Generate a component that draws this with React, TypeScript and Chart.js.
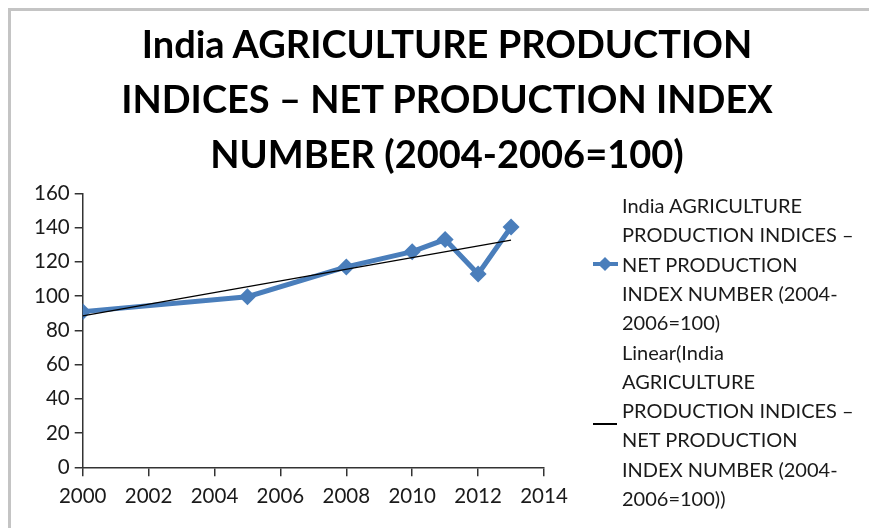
import React, { useEffect, useRef } from "react";
import { Chart, registerables } from "chart.js";

Chart.register(...registerables);

const years = [2000, 2005, 2008, 2010, 2011, 2012, 2013];
const indexValues = [90.9, 99.6, 117, 125.9, 133, 112.9, 140.3];
const xTicks = [2000, 2002, 2004, 2006, 2008, 2010, 2012, 2014];
const yTicks = [0, 20, 40, 60, 80, 100, 120, 140, 160];

const titleLines = [
  "India AGRICULTURE PRODUCTION",
  "INDICES – NET PRODUCTION INDEX",
  "NUMBER (2004-2006=100)",
];
const seriesLegendLines = [
  "India AGRICULTURE",
  "PRODUCTION INDICES –",
  "NET PRODUCTION",
  "INDEX NUMBER (2004-",
  "2006=100)",
];
const trendLegendLines = [
  "Linear(India",
  "AGRICULTURE",
  "PRODUCTION INDICES –",
  "NET PRODUCTION",
  "INDEX NUMBER (2004-",
  "2006=100))",
];

function linearFit(xs: number[], ys: number[]) {
  const n = xs.length;
  const mx = xs.reduce((a, b) => a + b, 0) / n;
  const my = ys.reduce((a, b) => a + b, 0) / n;
  let sxy = 0;
  let sxx = 0;
  for (let i = 0; i < n; i++) {
    sxy += (xs[i] - mx) * (ys[i] - my);
    sxx += (xs[i] - mx) * (xs[i] - mx);
  }
  const slope = sxy / sxx;
  return { slope, intercept: my - slope * mx };
}

const BLUE = "#4a7ebb";
const FONT = "Lato, 'Open Sans', sans-serif";

export default function App() {
  const canvasRef = useRef<HTMLCanvasElement | null>(null);

  useEffect(() => {
    if (!canvasRef.current) return;
    const fit = linearFit(years, indexValues);
    const x0 = years[0];
    const x1 = years[years.length - 1];
    const trend = [
      { x: x0, y: fit.intercept + fit.slope * x0 },
      { x: x1, y: fit.intercept + fit.slope * x1 },
    ];
    const chart = new Chart(canvasRef.current, {
      type: "line",
      data: {
        datasets: [
          {
            label: seriesLegendLines.join(" "),
            data: years.map((y, i) => ({ x: y, y: indexValues[i] })),
            borderColor: BLUE,
            backgroundColor: BLUE,
            borderWidth: 5,
            pointStyle: "rectRot",
            pointRadius: 8.5,
            pointBorderWidth: 0,
            tension: 0,
            order: 2,
          },
          {
            label: trendLegendLines.join(" "),
            data: trend,
            borderColor: "#000000",
            backgroundColor: "#000000",
            borderWidth: 1.3,
            pointRadius: 0,
            tension: 0,
            order: 1,
          },
        ],
      },
      options: {
        animation: false,
        responsive: false,
        layout: { padding: { left: 0, right: 325, top: 181.3, bottom: 0 } },
        plugins: {
          legend: { display: false },
          tooltip: { enabled: false },
          title: { display: false },
        },
        scales: {
          x: {
            type: "linear",
            min: xTicks[0],
            max: xTicks[xTicks.length - 1],
            afterBuildTicks: (scale: any) => {
              scale.ticks = xTicks.map((v) => ({ value: v }));
            },
            afterFit: (scale: any) => {
              scale.height = 60.7;
            },
            ticks: {
              color: "#1a1a1a",
              font: { family: FONT, size: 20.5 },
              padding: 8,
              maxRotation: 0,
              callback: (v: any) => String(v),
            },
            grid: {
              display: true,
              drawOnChartArea: false,
              drawTicks: true,
              tickLength: 9,
              color: "#333333",
              lineWidth: 1.5,
            },
            border: { display: true, color: "#333333", width: 1.5 },
          },
          y: {
            type: "linear",
            min: yTicks[0],
            max: yTicks[yTicks.length - 1],
            afterBuildTicks: (scale: any) => {
              scale.ticks = yTicks.map((v) => ({ value: v }));
            },
            afterFit: (scale: any) => {
              scale.width = 70.7;
            },
            ticks: {
              color: "#1a1a1a",
              font: { family: FONT, size: 20.5 },
              padding: 5,
            },
            grid: {
              display: true,
              drawOnChartArea: false,
              drawTicks: true,
              tickLength: 8,
              color: "#333333",
              lineWidth: 1.5,
            },
            border: { display: true, color: "#333333", width: 1.5 },
          },
        },
      },
    } as any);
    return () => chart.destroy();
  }, []);

  const legendTop = 191;
  const lh = 29.3;
  const legendText: React.CSSProperties = {
    position: "absolute",
    left: 622,
    fontFamily: FONT,
    fontSize: 20,
    lineHeight: lh + "px",
    color: "#1a1a1a",
    whiteSpace: "nowrap",
  };

  return (
    <div
      style={{
        position: "fixed",
        left: 0,
        top: 0,
        width: 869,
        height: 528,
        overflow: "hidden",
        background: "#ffffff",
      }}
    >
      <div
        style={{
          position: "absolute",
          left: 8,
          top: 8,
          width: 1000,
          height: 1000,
          borderLeft: "3px solid #c4c4c4",
          borderTop: "3px solid #c4c4c4",
        }}
      />
      <canvas
        ref={canvasRef}
        width={857}
        height={516}
        style={{ position: "absolute", left: 12, top: 12, width: 857, height: 516 }}
      />
      <div
        style={{
          position: "absolute",
          left: 12,
          top: 15.5,
          width: 870,
          textAlign: "center",
          fontFamily: FONT,
          fontWeight: "bold",
          fontSize: 38,
          lineHeight: "55px",
          color: "#000000",
          whiteSpace: "nowrap",
        }}
      >
        {titleLines.map((t, i) => (
          <div key={i}>{t}</div>
        ))}
      </div>
      <div style={{ ...legendText, top: legendTop }}>
        {seriesLegendLines.map((t, i) => (
          <div key={i}>{t}</div>
        ))}
      </div>
      <div style={{ ...legendText, top: legendTop + lh * seriesLegendLines.length }}>
        {trendLegendLines.map((t, i) => (
          <div key={i}>{t}</div>
        ))}
      </div>
      <div
        style={{
          position: "absolute",
          left: 593,
          top: legendTop + lh * 2.5 - 2,
          width: 25,
          height: 4,
          background: BLUE,
        }}
      />
      <div
        style={{
          position: "absolute",
          left: 600,
          top: legendTop + lh * 2.5 - 5,
          width: 10,
          height: 10,
          background: BLUE,
          transform: "rotate(45deg)",
        }}
      />
      <div
        style={{
          position: "absolute",
          left: 593,
          top: 423,
          width: 24,
          height: 1.5,
          background: "#000000",
        }}
      />
    </div>
  );
}
